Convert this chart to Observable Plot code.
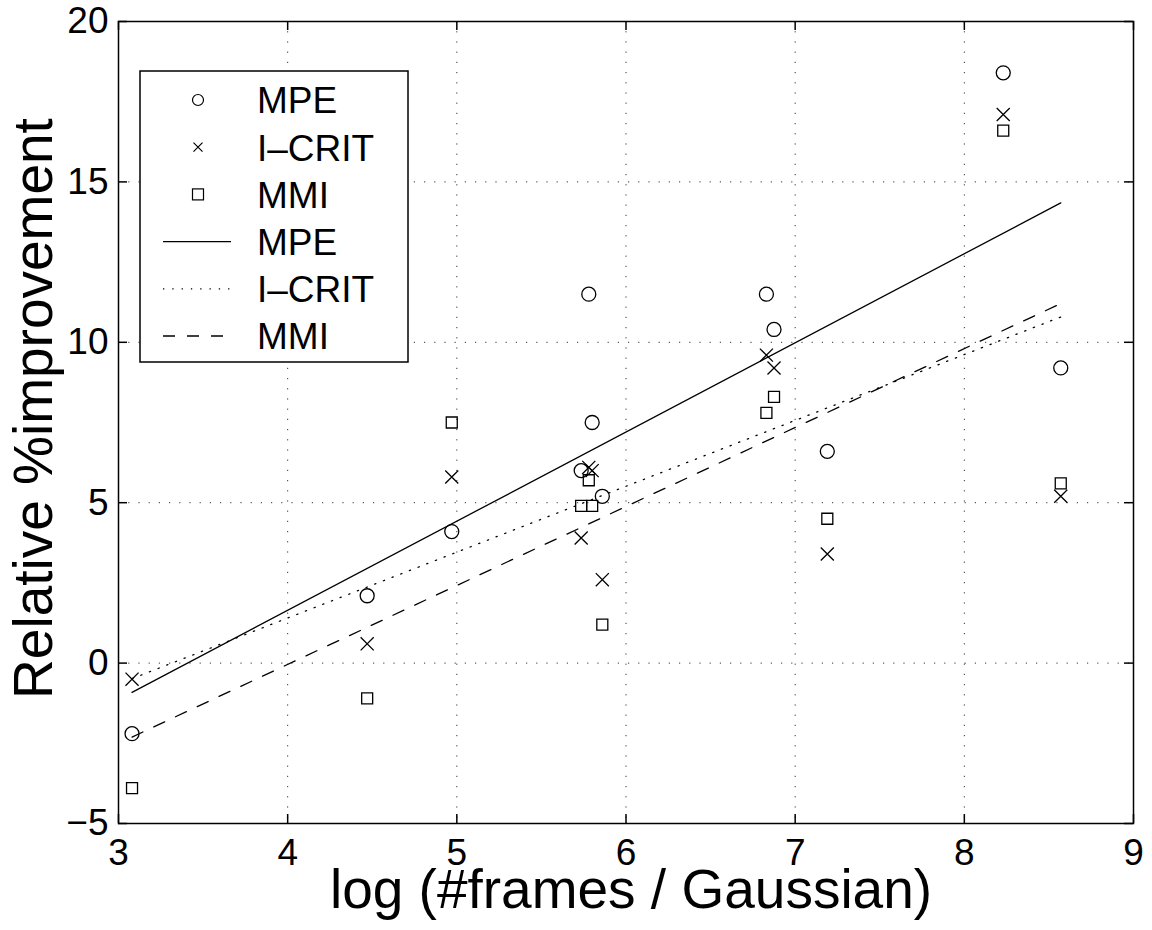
<!DOCTYPE html>
<html>
<head>
<meta charset="utf-8">
<script src="https://cdn.jsdelivr.net/npm/d3@7"></script>
<script src="https://cdn.jsdelivr.net/npm/@observablehq/plot@0.6"></script>
<style>
  body { margin: 0; background: #fff; }
  #wrap { position: relative; width: 1152px; height: 930px; font-family: "Liberation Sans", Arial, sans-serif; }
</style>
</head>
<body>
<div id="wrap"></div>
<script>
// ---- data ----
const logFrames = [3.08, 4.47, 4.97, 5.735, 5.78, 5.80, 5.86, 6.83, 6.875, 7.19, 8.23, 8.57];
const mpe   = [-2.2, 2.1, 4.1, 6.0, 11.5, 7.5, 5.2, 11.5, 10.4, 6.6, 18.4, 9.2];
const icrit = [-0.5, 0.6, 5.8, 3.9, 6.1, 6.0, 2.6, 9.6, 9.2, 3.4, 17.1, 5.2];
const mmi   = [-3.9, -1.1, 7.5, 4.9, 5.7, 4.9, 1.2, 7.8, 8.3, 4.5, 16.6, 5.6];
const xTicks = [3, 4, 5, 6, 7, 8, 9];
const yTicks = [-5, 0, 5, 10, 15, 20];
const xGrid = [4, 5, 6, 7, 8];
const yGrid = [0, 5, 10, 15];
const legendItems = ["MPE", "I\u2013CRIT", "MMI", "MPE", "I\u2013CRIT", "MMI"];
const xLabel = "log (#frames / Gaussian)";
const yLabel = "Relative %improvement";

const mk = ys => logFrames.map((x, i) => ({x, y: ys[i]}));
const dMPE = mk(mpe), dICRIT = mk(icrit), dMMI = mk(mmi);

const W = 1152, H = 930;
const mL = 118, mR = 19, mT = 21, mB = 107;
const innerW = W - mL - mR, innerH = H - mT - mB;
const tickLen = 9;
const font = "Liberation Sans, Arial, sans-serif";
const fmt = d => d < 0 ? "\u2212" + Math.abs(d) : String(d);

const chart = Plot.plot({
  width: W, height: H,
  marginLeft: mL, marginRight: mR, marginTop: mT, marginBottom: mB,
  style: {fontFamily: font, background: "white", color: "black"},
  x: {domain: [3, 9], ticks: xTicks},
  y: {domain: [-5, 20], ticks: yTicks},
  marks: [
    Plot.gridX(xGrid, {stroke: "black", strokeOpacity: 0.8, strokeDasharray: "1.2,9", strokeWidth: 1}),
    Plot.gridY(yGrid, {stroke: "black", strokeOpacity: 0.8, strokeDasharray: "1.2,9", strokeWidth: 1}),
    // inward ticks on all four sides
    Plot.tickY(yTicks, {y: d => d, insetRight: innerW - tickLen, stroke: "black", strokeWidth: 1.5}),
    Plot.tickY(yTicks, {y: d => d, insetLeft: innerW - tickLen, stroke: "black", strokeWidth: 1.5}),
    Plot.tickX(xTicks, {x: d => d, insetTop: innerH - tickLen, stroke: "black", strokeWidth: 1.5}),
    Plot.tickX(xTicks, {x: d => d, insetBottom: innerH - tickLen, stroke: "black", strokeWidth: 1.5}),
    Plot.axisX(xTicks, {tickSize: 0, tickPadding: 15, fontSize: 37, label: null, tickFormat: fmt}),
    Plot.axisY(yTicks, {tickSize: 0, tickPadding: 10, fontSize: 37, label: null, tickFormat: fmt}),
    Plot.frame({stroke: "black", strokeWidth: 1.5}),
    // regression lines
    Plot.linearRegressionY(dMPE, {x: "x", y: "y", stroke: "black", strokeWidth: 1.3, ci: 0}),
    Plot.linearRegressionY(dICRIT, {x: "x", y: "y", stroke: "black", strokeWidth: 1.3, strokeDasharray: "1.3,8", ci: 0}),
    Plot.linearRegressionY(dMMI, {x: "x", y: "y", stroke: "black", strokeWidth: 1.3, strokeDasharray: "12,12", ci: 0}),
    // points
    Plot.dot(dMPE, {x: "x", y: "y", symbol: "circle", r: 7, stroke: "black", strokeWidth: 1.3, fill: "none"}),
    Plot.dot(dICRIT, {x: "x", y: "y", symbol: "times", r: 6, stroke: "black", strokeWidth: 1.3}),
    Plot.dot(dMMI, {x: "x", y: "y", symbol: "square", r: 6.2, stroke: "black", strokeWidth: 1.3, fill: "none"}),
    // axis titles
    Plot.text([xLabel], {text: d => d, frameAnchor: "bottom", textAnchor: "middle", dx: 5, dy: 67, fontSize: 55, lineAnchor: "middle", fill: "black"}),
    Plot.text([yLabel], {text: d => d, frameAnchor: "left", textAnchor: "middle", rotate: -90, dx: -84, dy: -14, fontSize: 55, lineAnchor: "middle", fill: "black"})
  ]
});
const wrap = document.getElementById("wrap");
wrap.appendChild(chart);

// ---- legend (SVG overlay) ----
const lw = 268, lh = 291, rowH = 47.2, row0 = 29;
const leg = d3.create("svg").attr("width", lw + 2).attr("height", lh + 2)
  .style("position", "absolute").style("left", "139px").style("top", "70px");
leg.append("rect").attr("x", 1).attr("y", 1).attr("width", lw).attr("height", lh)
  .attr("fill", "white").attr("stroke", "black").attr("stroke-width", 1.5);
const sx = 59, lineX1 = 24, lineX2 = 92, textX = 118;
legendItems.forEach((name, i) => {
  const cy = 1 + row0 + i * rowH;
  const g = leg.append("g");
  if (i === 0) g.append("circle").attr("cx", sx).attr("cy", cy).attr("r", 5.5).attr("fill", "none").attr("stroke", "black").attr("stroke-width", 1.2);
  if (i === 1) g.append("path").attr("d", `M${sx-4.5},${cy-4.5}L${sx+4.5},${cy+4.5}M${sx-4.5},${cy+4.5}L${sx+4.5},${cy-4.5}`).attr("stroke", "black").attr("stroke-width", 1.2);
  if (i === 2) g.append("rect").attr("x", sx - 5.5).attr("y", cy - 5.5).attr("width", 11).attr("height", 11).attr("fill", "none").attr("stroke", "black").attr("stroke-width", 1.2);
  if (i >= 3) {
    const dash = i === 3 ? null : i === 4 ? "1.3,8" : "12,12";
    const l = g.append("line").attr("x1", lineX1).attr("x2", lineX2).attr("y1", cy).attr("y2", cy).attr("stroke", "black").attr("stroke-width", 1.3);
    if (dash) l.attr("stroke-dasharray", dash);
  }
  g.append("text").attr("x", textX).attr("y", cy).attr("dy", "0.36em")
    .attr("font-family", font).attr("font-size", 37).attr("fill", "black").text(name);
});
wrap.appendChild(leg.node());
</script>
</body>
</html>
